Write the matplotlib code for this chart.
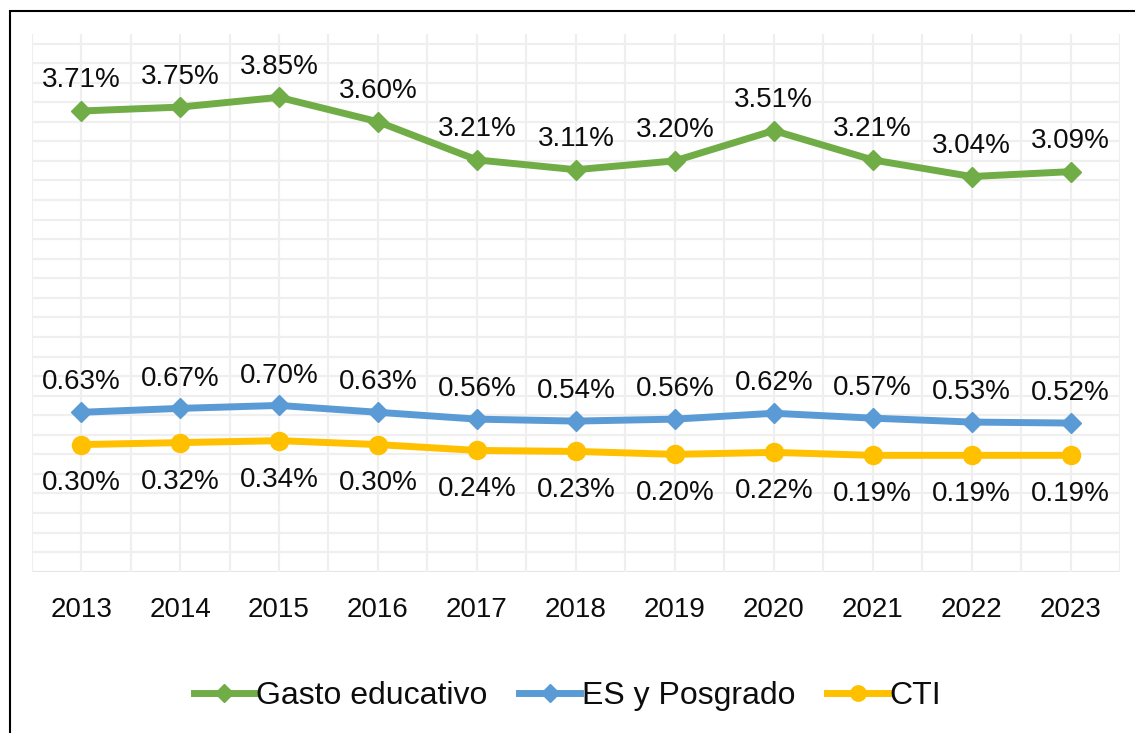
import numpy as np
import matplotlib.pyplot as plt
from matplotlib.patches import Rectangle

plt.rcParams['font.family'] = ['Liberation Sans', 'DejaVu Sans']

years = ["2013", "2014", "2015", "2016", "2017", "2018", "2019", "2020", "2021", "2022", "2023"]
gasto = [3.71, 3.75, 3.85, 3.60, 3.21, 3.11, 3.20, 3.51, 3.21, 3.04, 3.09]
es_posgrado = [0.63, 0.67, 0.70, 0.63, 0.56, 0.54, 0.56, 0.62, 0.57, 0.53, 0.52]
cti = [0.30, 0.32, 0.34, 0.30, 0.24, 0.23, 0.20, 0.22, 0.19, 0.19, 0.19]

green = "#70AD47"
blue = "#5B9BD5"
yellow = "#FFC000"
txt = "#0D0D0D"

fig = plt.figure(figsize=(11.35, 7.33), dpi=100)
ax = fig.add_axes([0.0279, 0.220, 0.9589, 0.734])

x = np.arange(len(years))

# light grid like the excel original
for yv in np.arange(-1.0, 4.41, 0.2):
    ax.axhline(yv, color="#EFEFEF", lw=1.6, zorder=0)
ax.axhline(-1.0, color="#E3E3E3", lw=1.8, zorder=0)
for xv in np.arange(-0.5, 10.51, 0.5):
    ax.axvline(xv, color="#EFEFEF", lw=1.6, zorder=0)

ax.plot(x, gasto, color=green, lw=5, marker="D", ms=10.5, label="Gasto educativo", zorder=3)
ax.plot(x, es_posgrado, color=blue, lw=5, marker="D", ms=10.5, label="ES y Posgrado", zorder=3)
ax.plot(x, cti, color=yellow, lw=5, marker="o", ms=13, label="CTI", zorder=3)

for i in range(len(years)):
    ax.annotate(f"{gasto[i]:.2f}%", (x[i], gasto[i]), xytext=(0, 22), textcoords="offset points",
                ha="center", va="center", fontsize=20, color=txt)
    ax.annotate(f"{es_posgrado[i]:.2f}%", (x[i], es_posgrado[i]), xytext=(0, 21.5), textcoords="offset points",
                ha="center", va="center", fontsize=20, color=txt)
    ax.annotate(f"{cti[i]:.2f}%", (x[i], cti[i]), xytext=(0, -28), textcoords="offset points",
                ha="center", va="center", fontsize=20, color=txt)

ax.set_xlim(-0.5, 10.5)
ax.set_ylim(-1.0, 4.5)
ax.set_xticks(x)
ax.set_xticklabels(years, fontsize=20, color=txt)
ax.set_yticks([])
ax.tick_params(axis="x", length=0, pad=18)
for s in ax.spines.values():
    s.set_visible(False)

leg = fig.legend(loc="center", bbox_to_anchor=(0.5, 1 - 696 / 733), ncol=3, frameon=False,
                 fontsize=23, handlelength=1.9, handletextpad=0.05, columnspacing=1.0, markerscale=0.85)
for t in leg.get_texts():
    t.set_color(txt)

fig.patches.append(Rectangle((10 / 1135, -0.05), 1.2, 1 - 11 / 733 + 0.05, transform=fig.transFigure,
                             fill=False, edgecolor="black", lw=1.5))

fig.savefig("out.png", dpi=100)
